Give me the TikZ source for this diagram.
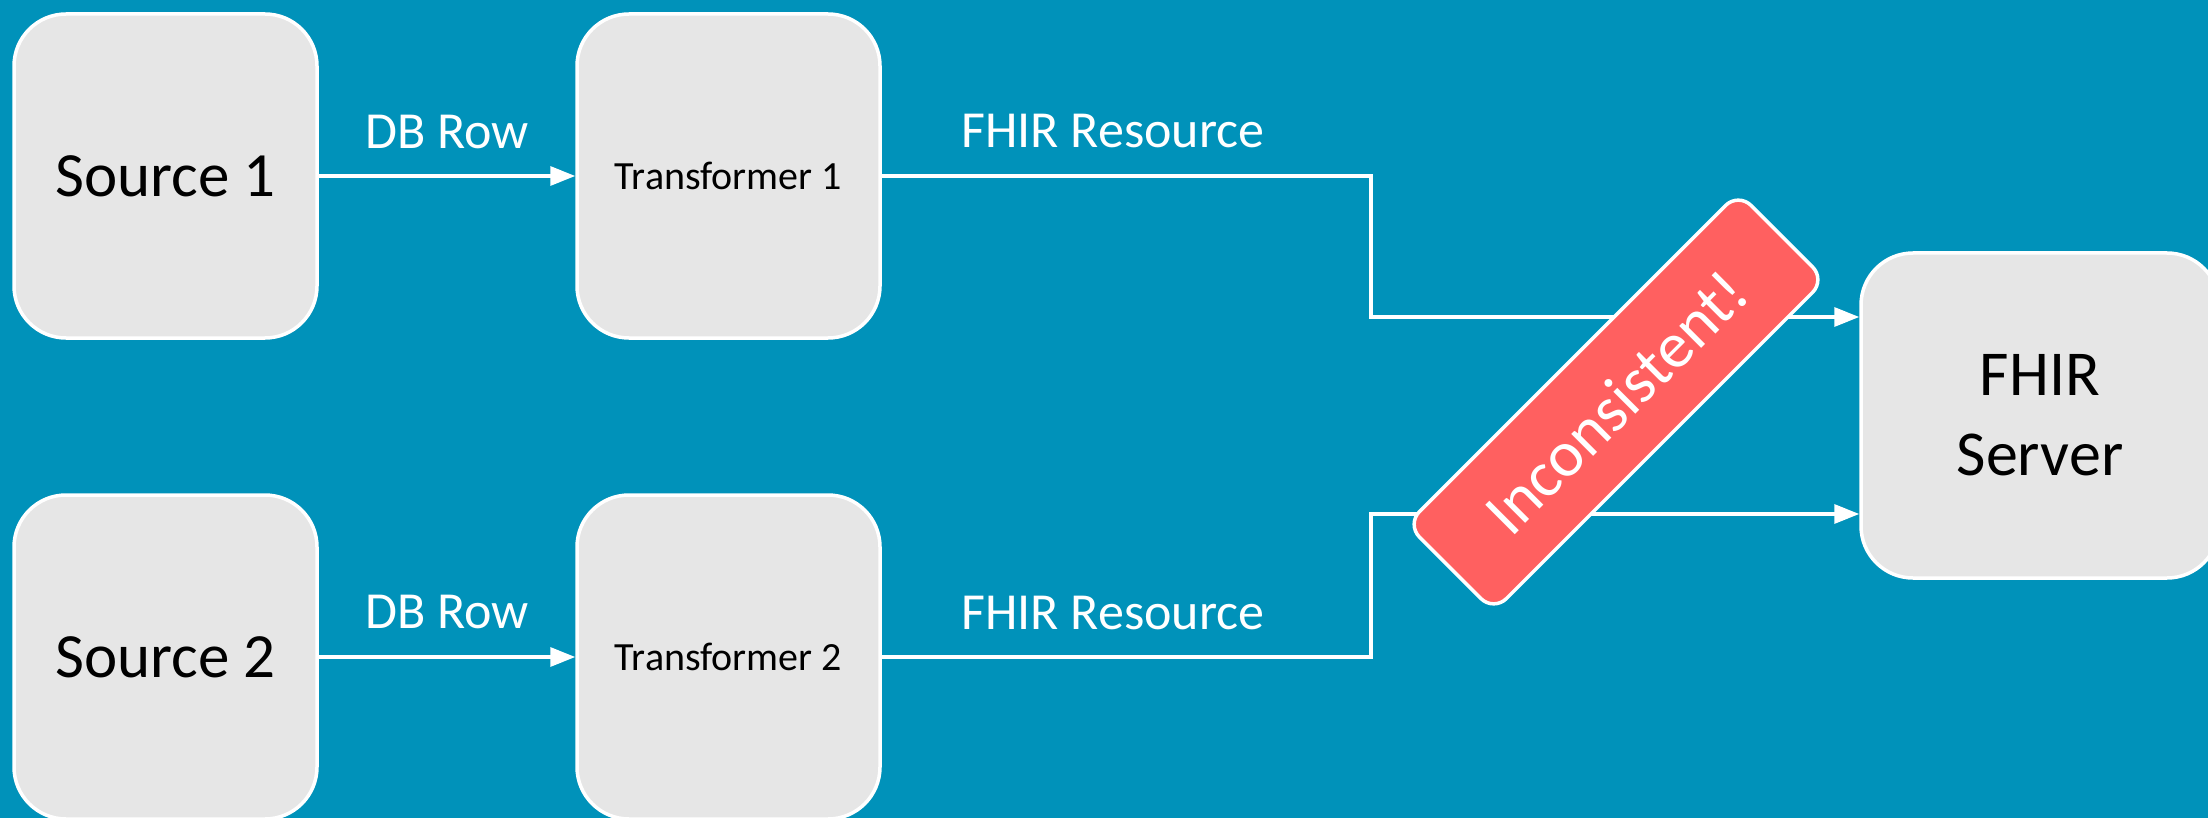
\documentclass[tikz,border=0pt]{standalone}
\usepackage{fontspec}
\setmainfont{Carlito}
\usetikzlibrary{arrows.meta}
\definecolor{bg}{RGB}{0,146,186}
\definecolor{boxfill}{RGB}{230,230,230}
\definecolor{badgered}{RGB}{255,96,96}
\begin{document}
\begin{tikzpicture}[x=1pt,y=-1pt,
  blk/.style={draw=white,line width=3.5pt,fill=boxfill,rounded corners=52pt,inner sep=0pt,text=black,
              minimum width=303pt,minimum height=324pt},
  bigtxt/.style={font=\fontsize{63}{76}\selectfont},
  smalltxt/.style={font=\fontsize{40}{48}\selectfont},
  conn/.style={draw=white,line width=3.3pt,-{Triangle[length=25pt,width=19pt]}},
  lbl/.style={text=white,font=\fontsize{52}{62}\selectfont,anchor=base,inner sep=0pt},
  badge/.style={draw=white,line width=3.5pt,fill=badgered,rounded corners=18pt,text=white,
                minimum width=469pt,minimum height=123pt,inner sep=0pt,font=\fontsize{65}{78}\selectfont}]
\fill[bg] (0,0) rectangle (2208,818);
\useasboundingbox (0,0) rectangle (2208,818);

% boxes
\node[blk,bigtxt] (s1) at (165.5,176) {Source 1};
\node[blk,smalltxt] (t1) at (728.5,176) {Transformer 1};
\node[blk,bigtxt] (s2) at (165.5,657) {Source 2};
\node[blk,smalltxt] (t2) at (728.5,657) {Transformer 2};
\node[blk,minimum width=358pt,minimum height=325pt,align=center,font=\fontsize{64}{80}\selectfont] (fhir) at (2040,415.5) {FHIR\\Server};

% labels
\node[lbl] (l1) at (447,149) {DB Row};
\node[lbl] (l2) at (1113,148) {FHIR Resource};
\node[lbl] (l3) at (447,628) {DB Row};
\node[lbl] (l4) at (1113,629) {FHIR Resource};

% junctions
\coordinate (j1) at (1371,317);
\coordinate (j2) at (1371,514);

% connectors
\draw[conn] (s1) -- (t1);
\draw[conn] (s2) -- (t2);
\draw[conn] (t1.east) -| (j1) -- (fhir.west |- j1);
\draw[conn] (t2.east) -| (j2) -- (fhir.west |- j2);

% badge
\node[badge,rotate=45] (inc) at (1616,402) {Inconsistent!};
\end{tikzpicture}
\end{document}
